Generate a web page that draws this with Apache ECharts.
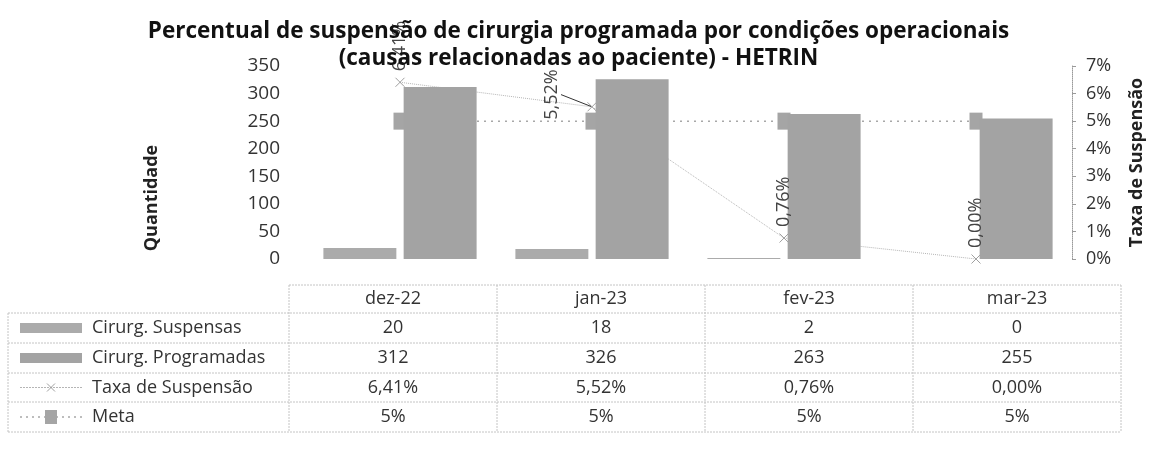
<!DOCTYPE html>
<html>
<head>
<meta charset="utf-8">
<script src="https://cdn.jsdelivr.net/npm/echarts@6/dist/echarts.min.js"></script>
<style>
  html, body { margin: 0; padding: 0; background: #fff; }
  #main { width: 1157px; height: 459px; }
</style>
</head>
<body>
<div id="main"></div>
<script>
var dom = document.getElementById('main');
var myChart = echarts.init(dom);

// dados
var categories = ['dez-22', 'jan-23', 'fev-23', 'mar-23'];
var suspensas = [20, 18, 2, 0];
var programadas = [312, 326, 263, 255];
var taxa = [6.41, 5.52, 0.76, 0.00];
var meta = [5, 5, 5, 5];
var leftTicks = [0, 350, 50];   // min, max, interval
var rightTicks = [0, 7, 1];

var seriesNames = ['Cirurg. Suspensas', 'Cirurg. Programadas', 'Taxa de Suspensão', 'Meta'];

var fontFam = '"Open Sans", sans-serif';
var txtColor = '#333';
var barColor1 = '#ababab';
var barColor2 = '#a3a3a3';

function pct(v, dec) {
  return v.toFixed(dec).replace('.', ',') + '%';
}

// tabela de dados (abaixo do grafico)
var tblLeft = 8, colStart = 289, colW = 208;
var rowY = [285, 313, 343, 373, 402, 432];
var tableRows = [
  suspensas.map(function (v) { return String(v); }),
  programadas.map(function (v) { return String(v); }),
  taxa.map(function (v) { return pct(v, 2); }),
  meta.map(function (v) { return pct(v, 0); })
];

var lineStyleTbl = { stroke: '#c4c4c4', lineWidth: 1, lineDash: [2, 1] };
var graphics = [];

// linhas horizontais
graphics.push({ type: 'line', shape: { x1: colStart, y1: rowY[0], x2: colStart + colW * 4, y2: rowY[0] }, style: lineStyleTbl });
for (var r = 1; r < rowY.length; r++) {
  graphics.push({ type: 'line', shape: { x1: tblLeft, y1: rowY[r], x2: colStart + colW * 4, y2: rowY[r] }, style: lineStyleTbl });
}
// linhas verticais
graphics.push({ type: 'line', shape: { x1: tblLeft, y1: rowY[1], x2: tblLeft, y2: rowY[5] }, style: lineStyleTbl });
for (var c = 0; c <= 4; c++) {
  graphics.push({ type: 'line', shape: { x1: colStart + colW * c, y1: rowY[0], x2: colStart + colW * c, y2: rowY[5] }, style: lineStyleTbl });
}
// cabecalho
categories.forEach(function (cat, i) {
  graphics.push({
    type: 'text', x: colStart + colW * i + colW / 2, y: (rowY[0] + rowY[1]) / 2,
    style: { text: cat, font: '18px ' + fontFam, fill: txtColor, align: 'center', verticalAlign: 'middle' }
  });
});
// valores + rotulos das linhas
tableRows.forEach(function (vals, r) {
  var cy = (rowY[r + 1] + rowY[r + 2]) / 2;
  graphics.push({
    type: 'text', x: 92, y: cy,
    style: { text: seriesNames[r], font: '18px ' + fontFam, fill: txtColor, align: 'left', verticalAlign: 'middle' }
  });
  vals.forEach(function (v, i) {
    graphics.push({
      type: 'text', x: colStart + colW * i + colW / 2, y: cy,
      style: { text: v, font: '18px ' + fontFam, fill: txtColor, align: 'center', verticalAlign: 'middle' }
    });
  });
});
// chaves de legenda na tabela
var ky = function (r) { return (rowY[r + 1] + rowY[r + 2]) / 2; };
graphics.push({ type: 'rect', shape: { x: 20, y: ky(0) - 5, width: 62, height: 10 }, style: { fill: barColor1 } });
graphics.push({ type: 'rect', shape: { x: 20, y: ky(1) - 5, width: 62, height: 10 }, style: { fill: barColor2 } });
graphics.push({ type: 'line', shape: { x1: 20, y1: ky(2), x2: 82, y2: ky(2) }, style: { stroke: '#b5b5b5', lineWidth: 1, lineDash: [2, 1] } });
graphics.push({ type: 'line', shape: { x1: 47, y1: ky(2) - 4, x2: 55, y2: ky(2) + 4 }, style: { stroke: '#a0a0a0', lineWidth: 1 } });
graphics.push({ type: 'line', shape: { x1: 47, y1: ky(2) + 4, x2: 55, y2: ky(2) - 4 }, style: { stroke: '#a0a0a0', lineWidth: 1 } });
graphics.push({ type: 'line', shape: { x1: 20, y1: ky(3), x2: 82, y2: ky(3) }, style: { stroke: '#a8a8a8', lineWidth: 1.5, lineDash: [2, 4] } });
graphics.push({ type: 'rect', shape: { x: 45, y: ky(3) - 7, width: 12, height: 14 }, style: { fill: '#a5a5a5' } });

// titulo do eixo esquerdo
graphics.push({
  type: 'text', x: 152, y: 198, rotation: Math.PI / 2,
  style: { text: 'Quantidade', font: 'bold 18px ' + fontFam, fill: '#222', align: 'center', verticalAlign: 'middle' }
});

// rotulos: so o de jan-23 e deslocado, com linha de chamada
var labelData = taxa.map(function (v, i) {
  if (i === 1) {
    return { value: v, labelLine: { show: true } };
  }
  return v;
});

option = {
  animation: false,
  backgroundColor: '#fff',
  title: {
    text: 'Percentual de suspensão de cirurgia programada por condições operacionais\n(causas relacionadas ao paciente) - HETRIN',
    left: 'center',
    top: 13,
    textStyle: { fontFamily: fontFam, fontSize: 22.5, fontWeight: 'bold', color: '#111', lineHeight: 27, align: 'center' }
  },
  grid: { left: 304, right: 85, top: 66, bottom: 200 },
  xAxis: {
    type: 'category',
    data: categories,
    axisLine: { show: false },
    axisTick: { show: false },
    axisLabel: { show: false }
  },
  yAxis: [{
    type: 'value',
    min: leftTicks[0], max: leftTicks[1], interval: leftTicks[2],
    axisLine: { show: false },
    axisTick: { show: false },
    splitLine: { show: false },
    axisLabel: { fontFamily: fontFam, fontSize: 19, color: txtColor, margin: 24 }
  }, {
    type: 'value',
    min: rightTicks[0], max: rightTicks[1], interval: rightTicks[2],
    position: 'right',
    name: 'Taxa de Suspensão',
    nameLocation: 'middle',
    nameRotate: 90,
    nameGap: 56,
    nameTextStyle: { fontFamily: fontFam, fontSize: 18, fontWeight: 'bold', color: '#222' },
    axisLine: { show: true, lineStyle: { color: '#9a9a9a', type: 'dotted', width: 1 } },
    axisTick: { show: true, length: 4, lineStyle: { color: '#9a9a9a' } },
    splitLine: { show: false },
    axisLabel: { fontFamily: fontFam, fontSize: 18, color: txtColor, margin: 14, formatter: '{value}%' }
  }],
  graphic: graphics,
  series: [{
    name: seriesNames[0],
    type: 'bar',
    data: suspensas,
    barWidth: '38%',
    barGap: '10%',
    z: 3,
    itemStyle: { color: barColor1 }
  }, {
    name: seriesNames[1],
    type: 'bar',
    data: programadas,
    barWidth: '38%',
    z: 3,
    itemStyle: { color: barColor2 }
  }, {
    name: seriesNames[2],
    type: 'line',
    yAxisIndex: 1,
    data: taxa,
    z: 2,
    symbol: 'path://M0,0L10,10M10,0L0,10',
    symbolSize: 9,
    itemStyle: { color: '#fff', borderColor: '#a0a0a0', borderWidth: 1 },
    lineStyle: { color: '#b5b5b5', width: 1, type: 'dotted' }
  }, {
    name: seriesNames[3],
    type: 'line',
    yAxisIndex: 1,
    data: meta,
    z: 1,
    symbol: 'rect',
    symbolSize: [13, 17],
    itemStyle: { color: '#a5a5a5' },
    lineStyle: { color: '#a8a8a8', width: 1.5, type: [2, 5] }
  }, {
    // rotulos da taxa, desenhados por cima das barras
    name: 'rotulos',
    type: 'line',
    yAxisIndex: 1,
    data: labelData,
    z: 5,
    symbol: 'circle',
    symbolSize: 2,
    itemStyle: { color: 'rgba(0,0,0,0)', borderWidth: 0 },
    lineStyle: { opacity: 0 },
    silent: true,
    label: {
      show: true,
      position: 'top',
      rotate: 90,
      align: 'left',
      verticalAlign: 'middle',
      distance: 10,
      fontFamily: fontFam,
      fontSize: 18,
      color: '#444',
      formatter: function (p) { return pct(p.value, 2); }
    },
    labelLine: { show: false, lineStyle: { color: '#333', width: 1 } },
    labelLayout: function (params) {
      if (params.dataIndex === 1) {
        // deslocamento no referencial girado: (-24,-40) => 40 px a esquerda, 24 px abaixo
        return { dx: -24, dy: -40 };
      }
    }
  }]
};

if (option && typeof option === 'object') {
  myChart.setOption(option, true);
}
</script>
</body>
</html>
